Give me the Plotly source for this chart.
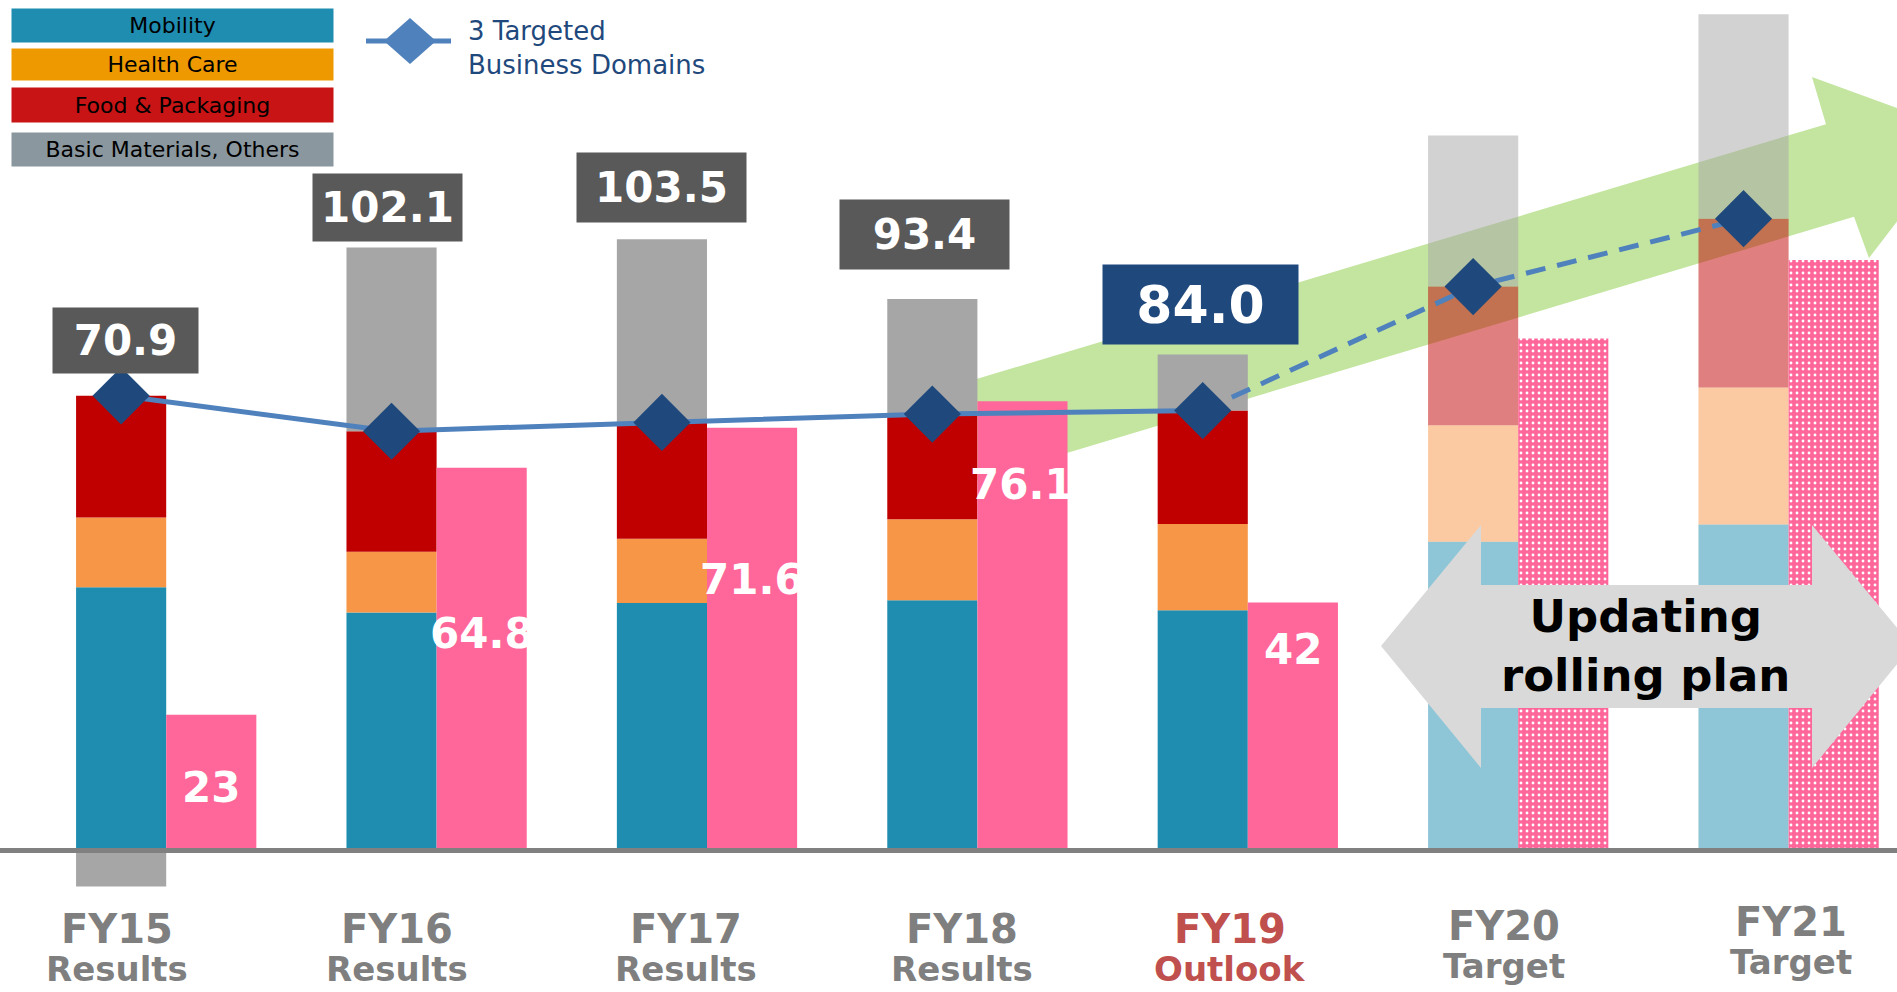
import plotly.graph_objects as go

# ---------------- data ----------------
categories = ["FY15", "FY16", "FY17", "FY18", "FY19", "FY20", "FY21"]
cat_sub = ["Results", "Results", "Results", "Results", "Outlook", "Target", "Target"]
mobility = [44.6, 40.3, 41.9, 42.4, 40.7, 52.3, 55.2]
health_care = [11.8, 10.3, 10.9, 13.7, 14.6, 19.7, 23.2]
food_packaging = [20.6, 20.4, 19.7, 17.8, 19.2, 23.5, 28.6]
basic_others = [-6.1, 31.1, 31.0, 19.5, 9.5, 25.6, 34.6]
op_income_labels = ["70.9", "102.1", "103.5", "93.4", "84.0"]
net_income = [23.0, 64.8, 71.6, 76.1, 42.0, 86.7, 100.0]
net_income_labels = ["23", "64.8", "71.6", "76.1", "42"]

# ---------------- geometry helpers ----------------
W, H = 1897, 992
Y0_PX = 850.5      # pixel row of value 0
PPU = 5.905        # pixels per unit
X0_PX = 166.2      # pixel column of category 0 (group centre)
STEP_PX = 270.4    # pixels between categories

n = len(categories)
idx = list(range(n))
x_stack = [i - 1/6 for i in idx]
x_pink = [i + 1/6 for i in idx]
three = [m + h + f for m, h, f in zip(mobility, health_care, food_packaging)]

future = [False, False, False, False, False, True, True]
op = [0.5 if f else 1.0 for f in future]

def px(xp):
    return xp / W

def py(yp):
    return 1 - yp / H

fig = go.Figure()

seg_specs = [
    ("Mobility", mobility, "#1F8DB0"),
    ("Health Care", health_care, "#F79646"),
    ("Food & Packaging", food_packaging, "#C00000"),
    ("Basic Materials, Others", basic_others, "#A6A6A6"),
]
for name, vals, col in seg_specs:
    fig.add_trace(go.Bar(
        x=x_stack, y=vals, width=1/3, name=name,
        marker=dict(color=col, opacity=op, line=dict(width=0)),
        hoverinfo="y", showlegend=False,
    ))

fig.add_trace(go.Bar(
    x=x_pink, y=net_income, width=1/3, name="Net income",
    marker=dict(
        color="#FF6699", line=dict(width=0),
        pattern=dict(
            shape=["." if f else "" for f in future],
            fillmode="replace",
            bgcolor="#FF6699", fgcolor="white",
            size=6, solidity=0.18,
        ),
    ),
    hoverinfo="y", showlegend=False,
))

# 3 targeted business domains line
fig.add_trace(go.Scatter(
    x=x_stack[:5], y=three[:5], mode="lines",
    line=dict(color="#4F81BD", width=5), showlegend=False, hoverinfo="skip",
))
fig.add_trace(go.Scatter(
    x=x_stack[4:], y=three[4:], mode="lines",
    line=dict(color="#4F81BD", width=5, dash="20px,12px"), showlegend=False, hoverinfo="skip",
))
fig.add_trace(go.Scatter(
    x=x_stack, y=three, mode="markers",
    marker=dict(symbol="diamond", size=44, color="#1F497D", line=dict(width=0)),
    showlegend=False, hoverinfo="y",
))

shapes = []
# green growth arrow (behind bars)
def band_top(x):
    return 267 - 0.3 * (x - 1350)

def band_bot(x):
    return 368 - 0.3 * (x - 1350)

green_pts = [
    (930, band_top(930)), (1826, band_top(1826)), (1812, 77), (1965, 133),
    (1869, 258), (1854, band_bot(1854)), (930, band_bot(930)),
]
path = "M " + " L ".join(f"{px(a):.5f},{py(b):.5f}" for a, b in green_pts) + " Z"
shapes.append(dict(type="path", xref="paper", yref="paper", path=path,
                   fillcolor="#C4E5A0", line=dict(width=0), layer="below"))

# grey double arrow
grey_pts = [
    (1381, 646), (1481, 525), (1481, 585), (1812, 585), (1812, 525), (1912, 646),
    (1812, 768), (1812, 708), (1481, 708), (1481, 768),
]
path = "M " + " L ".join(f"{px(a):.5f},{py(b):.5f}" for a, b in grey_pts) + " Z"
shapes.append(dict(type="path", xref="paper", yref="paper", path=path,
                   fillcolor="#D9D9D9", line=dict(width=0), layer="above"))

# baseline
shapes.append(dict(type="line", xref="paper", yref="y", x0=0, x1=1, y0=0, y1=0,
                   line=dict(color="#808080", width=5), layer="above"))

# legend line + diamond
shapes.append(dict(type="line", xref="paper", yref="paper",
                   x0=px(366), x1=px(451), y0=py(41), y1=py(41),
                   line=dict(color="#4F81BD", width=5)))
dpts = [(410, 18), (436, 41), (410, 64), (384, 41)]
path = "M " + " L ".join(f"{px(a):.5f},{py(b):.5f}" for a, b in dpts) + " Z"
shapes.append(dict(type="path", xref="paper", yref="paper", path=path,
                   fillcolor="#4F81BD", line=dict(width=0)))

annotations = []
FONT = "DejaVu Sans, Verdana, sans-serif"

# legend boxes
leg_boxes = [
    ("Mobility", "#1F8DB0", 9, 42),
    ("Health Care", "#EE9900", 49, 80),
    ("Food & Packaging", "#C81414", 88, 122),
    ("Basic Materials, Others", "#8A979E", 133, 166),
]
for txt, col, t, b in leg_boxes:
    annotations.append(dict(
        text=txt, xref="paper", yref="paper", x=px(172.5), y=py((t + b) / 2),
        xanchor="center", yanchor="middle", showarrow=False,
        width=321, height=b - t, bgcolor=col, borderpad=0,
        font=dict(family=FONT, size=22, color="black"),
    ))
annotations.append(dict(
    text="3 Targeted<br>Business Domains", xref="paper", yref="paper",
    x=px(466), y=py(48), xanchor="left", yanchor="middle", align="left",
    showarrow=False, font=dict(family=FONT, size=26, color="#1F497D"),
))

# operating income boxes
box_gap_px = [22, 6, 16, 29, 9]
box_dx_px = [4, -4, 0, -8, -2]
box_w = [145, 149, 169, 169, 195]
box_h = [65, 67, 69, 69, 79]
box_col = ["#595959", "#595959", "#595959", "#595959", "#1F497D"]
box_fs = [42, 42, 42, 42, 52]
for i, lab in enumerate(op_income_labels):
    top = mobility[i] + health_care[i] + food_packaging[i] + max(basic_others[i], 0)
    annotations.append(dict(
        text=f"<b>{lab}</b>", xref="x", yref="y", x=x_stack[i], xshift=box_dx_px[i],
        y=top + box_gap_px[i] / PPU, xanchor="center", yanchor="bottom",
        showarrow=False, width=box_w[i], height=box_h[i], bgcolor=box_col[i],
        borderpad=0, font=dict(family=FONT, size=box_fs[i], color="white"),
    ))

# net income labels
lab_off_px = [73, 166, 152, 83, 47]
for i, lab in enumerate(net_income_labels):
    annotations.append(dict(
        text=f"<b>{lab}</b>", xref="x", yref="y", x=x_pink[i],
        y=net_income[i] - lab_off_px[i] / PPU, xanchor="center", yanchor="middle",
        showarrow=False, font=dict(family=FONT, size=42, color="white"),
    ))

# category labels
lab_dx = [-0.183, -0.148, -0.076, -0.058, -0.067, -0.054, 0.009]
lab_dy_px = [0, 0, 0, 0, 0, -3, -7]
for i, (c, s) in enumerate(zip(categories, cat_sub)):
    col = "#C0504D" if i == 4 else "#7F7F7F"
    annotations.append(dict(
        text=f"<b>{c}</b>", xref="x", yref="y", x=i + lab_dx[i],
        y=(Y0_PX - (929 + lab_dy_px[i])) / PPU, xanchor="center", yanchor="middle",
        showarrow=False, font=dict(family=FONT, size=40, color=col),
    ))
    annotations.append(dict(
        text=f"<b>{s}</b>", xref="x", yref="y", x=i + lab_dx[i],
        y=(Y0_PX - (969 + lab_dy_px[i])) / PPU, xanchor="center", yanchor="middle",
        showarrow=False, font=dict(family=FONT, size=34, color=col),
    ))

# rolling plan text
annotations.append(dict(
    text="<b>Updating<br>rolling plan</b>", xref="paper", yref="paper",
    x=px(1645), y=py(646), xanchor="center", yanchor="middle",
    showarrow=False, font=dict(family=FONT, size=45, color="black"),
))

fig.update_layout(
    width=W, height=H,
    margin=dict(l=0, r=0, t=0, b=0),
    paper_bgcolor="white", plot_bgcolor="white",
    barmode="relative",
    showlegend=False,
    xaxis=dict(range=[-X0_PX / STEP_PX, (W - X0_PX) / STEP_PX],
               showgrid=False, zeroline=False, showticklabels=False, fixedrange=True),
    yaxis=dict(range=[-(H - Y0_PX) / PPU, Y0_PX / PPU],
               showgrid=False, zeroline=False, showticklabels=False, fixedrange=True),
    shapes=shapes,
    annotations=annotations,
)

fig.write_html(
    "out.html",
    config={"displayModeBar": False},
    post_script="document.body.style.margin='0';document.body.style.overflow='hidden';",
)
